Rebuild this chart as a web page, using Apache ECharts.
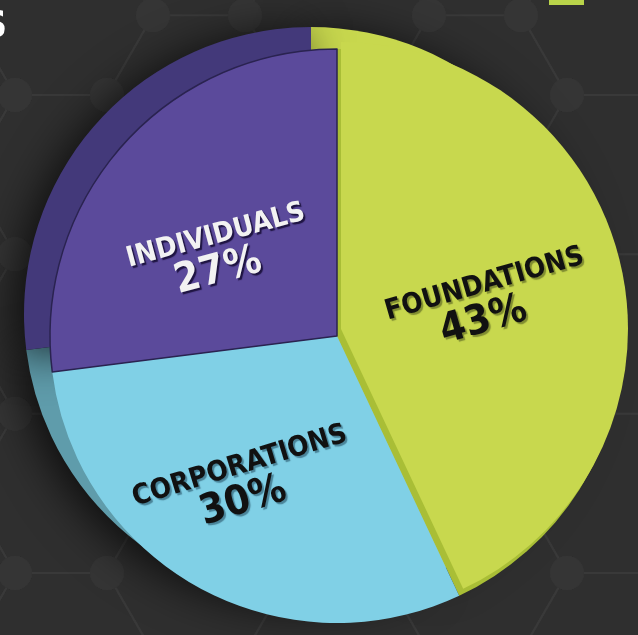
<!DOCTYPE html>
<html>
<head>
<meta charset="utf-8">
<script src="https://cdn.jsdelivr.net/npm/echarts@6/dist/echarts.min.js"></script>
<style>
  html, body { margin: 0; padding: 0; background: #2e2e2e; }
  #chart { width: 638px; height: 635px; }
</style>
</head>
<body>
<div id="chart"></div>
<script>
// Funding sources, share of total (%)
const categories = ['FOUNDATIONS', 'CORPORATIONS', 'INDIVIDUALS'];
const shares = [43, 30, 27];

// Palette: top faces, side walls, label ink
const faceColors = ['#c8d84e', '#80d0e6', '#5b4a9b'];
const wallColors = ['#a9be36', '#5f9cab', '#43397a'];
const inkColors = ['#111111', '#111111', '#f2f2f2'];
const inkShadow = ['rgba(80,90,30,0.6)', 'rgba(30,70,90,0.55)', 'rgba(20,10,50,0.85)'];
// label nudges (dx, dy), tilt, and left shift of the percentage line
const labelNudge = [[4, 8], [-26, 14], [-10, 14]];
const labelTilt = [16, 17, 15];
const pctShift = [22, 14, 14];

const CX = 337, CY = 336, R = 287;
const DEPTH_X = -26, DEPTH_Y = -22;
const RAISE_X = 4, RAISE_Y = -7;   // foundations slice sits a little higher

const LABEL_FONT = '"DejaVu Sans Condensed", "DejaVu Sans", sans-serif';

// Hexagonal backdrop lattice
function hexBackdrop() {
  const a = 92, h = a * Math.sqrt(3);
  const lines = [];
  const nodes = [];
  for (let j = -2; j < 9; j++) {
    for (let i = -3; i < 6; i++) {
      const cx = 61 + j * 1.5 * a;
      const cy = 493.3 + i * h + (Math.abs(j) % 2 ? h / 2 : 0);
      const v = [];
      for (let k = 0; k < 6; k++) {
        const t = k * Math.PI / 3;
        v.push([cx + a * Math.cos(t), cy + a * Math.sin(t)]);
      }
      for (let k = 0; k < 6; k++) {
        const p = v[k], q = v[(k + 1) % 6];
        lines.push({
          type: 'line', silent: true, z: 0,
          shape: { x1: p[0], y1: p[1], x2: q[0], y2: q[1] },
          style: { stroke: '#393939', lineWidth: 2 }
        });
        nodes.push(p);
      }
    }
  }
  const blobs = nodes.map(p => ({
    type: 'circle', silent: true, z: 0,
    shape: { cx: p[0], cy: p[1], r: 17 },
    style: { fill: '#353535' }
  }));
  return lines.concat(blobs);
}

function labelStyle(i) {
  return {
    show: true,
    position: 'inside',
    rotate: labelTilt[i],
    formatter: '{n|{b}}\n{p|{c}%}',
    rich: {
      n: {
        fontFamily: LABEL_FONT,
        fontWeight: 'bold',
        fontSize: 28,
        lineHeight: 30,
        color: inkColors[i],
        textShadowColor: inkShadow[i],
        textShadowOffsetX: 2,
        textShadowOffsetY: 2,
        textShadowBlur: 1
      },
      p: {
        fontFamily: LABEL_FONT,
        fontWeight: 'bold',
        fontSize: 41,
        lineHeight: 40,
        padding: [0, pctShift[i], 0, 0],
        color: inkColors[i],
        textShadowColor: inkShadow[i],
        textShadowOffsetX: 2,
        textShadowOffsetY: 2,
        textShadowBlur: 1
      }
    }
  };
}

const hidden = { color: 'transparent' };

// Back layer: extruded walls (foundations wall is lit like its face)
const sideData = categories.map((name, i) => ({
  name, value: shares[i],
  itemStyle: { color: i === 0 ? faceColors[0] : wallColors[i] }
}));

// Main layer: corporations and individuals faces, foundations inner wall
const faceData = categories.map((name, i) => ({
  name, value: shares[i],
  itemStyle: i === 2
    ? { color: faceColors[i], borderColor: '#2a2350', borderWidth: 1.5 }
    : { color: i === 0 ? wallColors[0] : faceColors[i] },
  label: i === 0 ? { show: false } : labelStyle(i)
}));

// Raised layer: foundations face
const raisedData = categories.map((name, i) => ({
  name, value: shares[i],
  itemStyle: i === 0 ? { color: faceColors[0] } : hidden,
  label: i === 0 ? labelStyle(0) : { show: false }
}));

const chart = echarts.init(document.getElementById('chart'), null, { renderer: 'canvas' });

const pieBase = {
  type: 'pie',
  silent: true,
  radius: [0, R],
  startAngle: 90,
  clockwise: true,
  labelLine: { show: false },
  labelLayout: function (p) {
    const k = p.dataIndex;
    return { dx: labelNudge[k][0], dy: labelNudge[k][1] };
  }
};

chart.setOption({
  backgroundColor: '#2f2f2f',
  animation: false,
  graphic: [
    { type: 'group', silent: true, z: 0, children: hexBackdrop() },
    {
      type: 'text', silent: true, z: 5,
      style: {
        text: 'S', x: 7, y: 8, align: 'right', verticalAlign: 'top',
        fill: '#ffffff',
        font: 'bold 38px "DejaVu Sans Condensed", sans-serif'
      }
    },
    {
      type: 'rect', silent: true, z: 5,
      shape: { x: 549, y: 0, width: 35, height: 5 },
      style: { fill: '#b9d44a' }
    }
  ],
  series: [
    Object.assign({}, pieBase, {
      name: 'side', z: 2,
      center: [CX + DEPTH_X, CY + DEPTH_Y],
      label: { show: false },
      itemStyle: {
        shadowColor: 'rgba(0,0,0,0.75)',
        shadowBlur: 45,
        shadowOffsetX: -8,
        shadowOffsetY: 6
      },
      data: sideData
    }),
    Object.assign({}, pieBase, {
      name: 'share', z: 3,
      center: [CX, CY],
      data: faceData
    }),
    Object.assign({}, pieBase, {
      name: 'raised', z: 4,
      center: [CX + RAISE_X, CY + RAISE_Y],
      data: raisedData
    })
  ]
});
</script>
</body>
</html>
